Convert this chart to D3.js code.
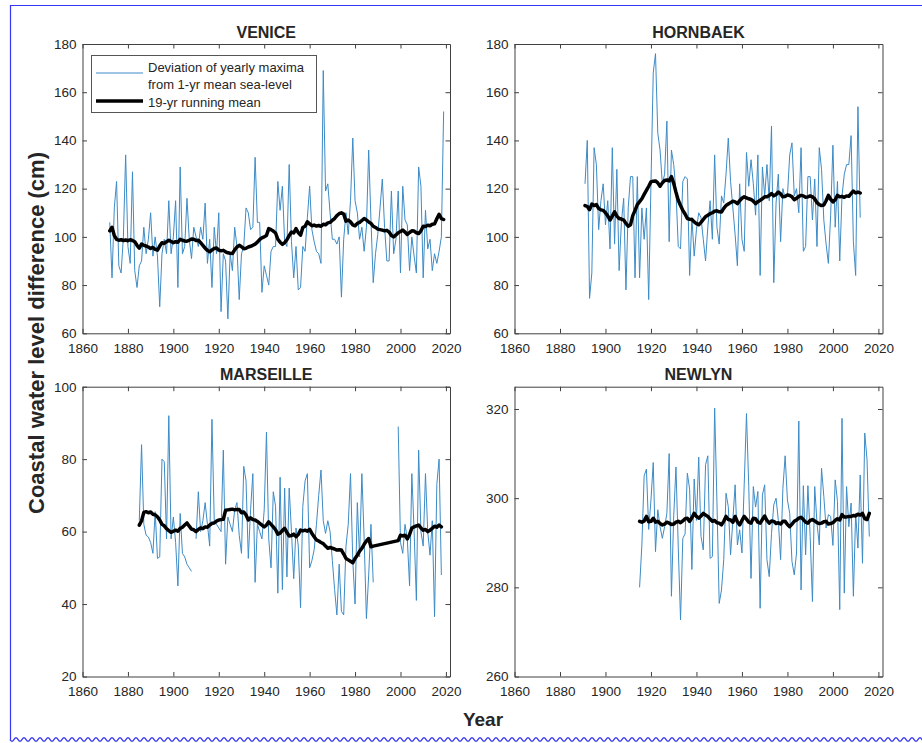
<!DOCTYPE html>
<html><head><meta charset="utf-8">
<script src="https://cdn.jsdelivr.net/npm/d3@7"></script>
<style>
body{margin:0;background:#fff}
svg{display:block}
text{font-family:"Liberation Sans",Arial,Helvetica,sans-serif;fill:#262626}
</style>
</head><body>
<svg id="c" width="922" height="743"></svg>
<script>
// ---------------- DATA ----------------
const xTicks = [1860,1880,1900,1920,1940,1960,1980,2000,2020];
const yTicksVenice = [60,80,100,120,140,160,180];
const yTicksHornbaek = [60,80,100,120,140,160,180];
const yTicksMarseille = [20,40,60,80,100];
const yTicksNewlyn = [260,280,300,320];

const veniceStart = 1872;
const veniceMaxima = [106,83,112,123,88,85,100,134,96,89,127,86,79,88,90,104,93,99,110,92,
100,92,71,93,99,93,115,93,100,115,79,129,93,96,116,99,91,104,100,96,
104,99,114,89,99,79,104,93,110,69,93,90,66,93,86,104,96,74,93,96,
112,110,103,104,133,106,106,77,88,84,80,94,96,96,123,111,121,98,96,130,
98,83,96,78,79,96,94,108,121,103,98,94,93,89,169,119,122,110,99,99,
97,100,75,99,110,101,115,141,115,110,99,104,94,104,136,107,81,93,101,112,
124,104,90,90,119,93,99,119,85,121,107,105,86,100,92,85,129,121,83,111,
95,99,86,93,89,94,100,152];
const veniceMean = [102.5,104,100.5,99,98.6,98.8,98.5,98.7,98.4,98.8,98.5,98,96.5,95.3,97,96.5,96.2,95.8,95.2,95.6,
94.8,94.5,96.2,97.6,97.3,98,98.6,98.1,97.6,98,97.8,99,98.6,98.3,98.2,98.6,99.1,99,98.5,98.6,
97.6,96.5,95.3,94.4,93.8,94.6,95.2,95.4,94.5,94.2,94.4,93.8,93.4,93.2,93.1,94.6,95.8,96.5,95.9,95.1,
95.3,95.8,96.1,96.5,97,97.8,98.9,99.6,100,100.6,103.4,103,102.4,101.6,99,97.8,96.9,97.6,98.8,100.5,
102,101.6,103.4,101.8,100.7,103.9,104.4,106.2,105.4,104.6,104.9,104.5,104.7,104.4,105.2,105,105.8,106,106.9,107.6,
108.8,109.6,110,109.5,106.5,107,106.2,105,104.6,105.6,106,106.8,107.6,107,106.2,105.6,104.4,103.9,103.2,103,
102.8,102.5,102.7,102,100.6,100,100.8,101.7,102.2,102.8,102,101,101.8,102.5,102.4,101.7,101.4,102.5,104.4,104.3,
104.8,104.6,105.2,105.4,107.5,109.4,107.6,107.2];

const hornbaekStart = 1891;
const hornbaekMaxima = [122,140,74.5,85,137,130,103,115,122,105,115,95,137,97,128,86,106,116,78,112,
125,125,83,125,83,112,99,112,74,122,168,176,143,136,122,126,148,98,136,130,
119,96,95,123,125,124,84,108,92,103,110,108,99,90,104,115,99,134,104,97,
117,114,126,141,123,112,101,88,122,99,94,135,121,132,122,109,134,84,129,117,
130,115,146,81,114,126,98,120,116,117,134,139,117,120,110,137,94,96,125,125,
107,124,96,137,128,107,97,89,109,138,104,123,90,117,126,130,130,142,98,84,
154,108];
const hornbaekMean = [113,112.6,111.3,113.6,113,113.4,111.8,111.2,111,110,108.7,107,108.6,110.4,108.6,107.6,107.4,107,105.6,104.4,
105,108.8,111,113.4,114.6,115.8,117.6,119.3,121,122.8,123.1,123.2,122.4,121,122.4,123.4,123.6,123.2,125,122.2,
118.5,115.2,113,111,109.5,107.6,107.3,107.2,106.2,105.5,105,106,107.2,108.4,109,109.6,110,110.6,110.8,110.4,
110.3,111.8,113,113.6,114.2,114.8,114.5,113.8,115,116,116.6,116.2,115.8,115.5,114.8,113.8,114.6,115.2,115.8,116.6,
116.6,117.2,118,117,117.6,118.6,117.8,116.6,116.8,117.4,117.2,116.6,115.4,116,116.8,117.2,117,116.4,116.6,117,
116.6,115.8,114.2,113.4,113,113.2,115,117.2,115.6,114.5,115.4,117.2,116.6,116.8,116.4,117,116.8,118,119,118.2,
118.6,118.2];

const marseilleStart = 1885;
const marseilleMaxima = [63,84,62,59,58.5,57,54,65.5,52.6,53,80,79.3,58,92,58,64,57,45,65,54,
53,51,50,49,null,58,71,60,63,68,62,56,91,63,62,61,60,82.5,51,64,
62,60,66,68,59,54,78,74,52.6,66,76,46,62,60,58,66,87.5,58,50,71,
67,43,75,44,72,47.5,72,60,47,61,56,39,67,74,76,50,52,55,62,70,
77,63,59.5,63,60,52,44,37,51,38,37,56,62,76,52,40,68,53,76,58,
36,48,62,46,null,null,null,null,null,null,null,null,null,null,89,57,54,62,58,45,
76,60,41,82.5,60,56,76,60,53.5,63,36.5,73,80,48];
const marseilleMean = [61.8,63,65.3,65.5,65.2,65.4,64.8,64.6,64.1,63.2,62,61.6,60.8,60.3,59.8,60.1,60.4,60.1,60.9,61.2,
61.8,62.4,61.5,60.7,60.5,60,60.6,61,60.8,61.3,61.2,61.8,62.3,62.4,62.9,63.2,63.3,63.4,65.9,66,
66.1,66.2,66,66.1,66.1,65.2,65.4,64.6,63.2,63.8,63.3,63.2,62.8,62.3,61.8,61.3,61.8,62.7,62,61.3,
60.5,59.3,59.6,60.3,60.9,59.8,58.8,58.9,59.3,58.6,59.2,60.4,60.2,60.4,60.1,60.6,59.5,58.6,57.7,57.4,
57,56.7,56,55.4,55.6,55.4,55.2,54.9,55,54.9,53.8,52.6,52.2,51.8,51.4,52.6,53.5,54.6,55.4,56.5,
57.4,58.1,55.8,56,null,null,null,null,null,null,null,null,null,null,57.5,59,58.8,59,58,59.2,
61,61.3,61.6,61.8,61,60.4,60.6,60,60.4,60.9,61.5,61.2,61.8,61.3];

const newlynStart = 1915;
const newlynMaxima = [280,289.5,305,306.5,293,299.6,308,288,297.4,293.6,291,293.6,296.6,310,278,296,307,289,272.7,291,
292,305.6,302,284,304.3,295,309.2,291.4,288.4,307.5,309.5,286.5,286.9,320.2,299.3,276.4,279.4,286.2,301.1,298.1,
287.3,295,303,289.5,292.9,287.7,303,319,302.6,282,302.6,298,301.5,275.3,300.7,303,286.2,282.4,292.1,298.5,
300,295,286.2,302.2,309.5,299.6,296.6,285.8,282.8,287.7,317.3,279.4,302.8,287.3,302.8,291.4,276.8,302.6,294.4,289.5,
306.7,300.4,293.3,296.3,295.9,289.4,304.1,299.3,275,317.9,278.7,302.6,293.6,298.9,278,296.6,288.8,305.2,285.4,314.6,
308.6,291.4];
const newlynMean = [294.8,294.6,294.9,295.9,294.7,294.8,295.5,294.6,294.8,294.3,294,294.2,294.6,294.4,294.1,294.2,294.6,294.8,294.5,294.9,
295.4,295.5,294.8,295.6,296.6,295.9,295.5,296,296.6,296.2,295.9,295.3,294.8,295,294.5,294.4,294,294.8,295.9,295.2,
295.1,294.6,295.9,294.7,294,295,295.9,295.3,294.6,294.4,295.5,295.4,294.6,294.4,295.2,296,295,294.4,294.9,294.8,
294.3,294.5,294.2,294.8,294.8,294.1,293.6,294.2,294.8,295.1,295.5,295.7,295.2,294.6,294.4,295,295.2,294.9,294.5,294.3,
294.4,294.7,294.8,294.2,294.3,294.5,295,295.4,295.1,296.3,295.8,295.8,295.9,295.9,296.1,296,296.4,296.2,296.6,295.4,
295.2,296.6];

const titles = ["VENICE","HORNBAEK","MARSEILLE","NEWLYN"];
const legendLabels = ["Deviation of yearly maxima","from 1-yr mean sea-level","19-yr running mean"];
const yLabel = "Coastal water level difference (cm)";
const xLabel = "Year";

// ---------------- LAYOUT ----------------
const svg = d3.select("#c");
const BLUE = "#3d8bc6", AXIS = "#404040", FRAME = "#3636f2";

// page frame
svg.append("rect").attr("width",922).attr("height",743).attr("fill","#fff");
svg.append("line").attr("x1",10).attr("x2",922).attr("y1",5.5).attr("y2",5.5).attr("stroke",FRAME).attr("stroke-width",1.2);
svg.append("line").attr("x1",10.5).attr("x2",10.5).attr("y1",5).attr("y2",740).attr("stroke",FRAME).attr("stroke-width",1.2);
const wave = d3.range(10, 923, 0.5).map(x => [x, 739.5 + 1.7*Math.sin((x-10)/8*2*Math.PI)]);
svg.append("path").attr("d", d3.line()(wave)).attr("fill","none").attr("stroke",FRAME).attr("stroke-width",1.3);

const cols = [[82.5,450],[514.5,882.5]];
const rows = [[44,333.3],[386.7,676.5]];

const panels = [
  {title:titles[0], c:0, r:0, dom:[60,180], ticks:yTicksVenice, start:veniceStart, vals:veniceMaxima, mean:veniceMean, legend:true},
  {title:titles[1], c:1, r:0, dom:[60,180], ticks:yTicksHornbaek, start:hornbaekStart, vals:hornbaekMaxima, mean:hornbaekMean},
  {title:titles[2], c:0, r:1, dom:[20,100], ticks:yTicksMarseille, start:marseilleStart, vals:marseilleMaxima, mean:marseilleMean},
  {title:titles[3], c:1, r:1, dom:[260,325], ticks:yTicksNewlyn, start:newlynStart, vals:newlynMaxima, mean:newlynMean}
];

panels.forEach(p => {
  const [xl, xr] = cols[p.c], [yt, yb] = rows[p.r];
  const x = d3.scaleLinear().domain([1860, 2021.8]).range([xl, xr]);
  const y = d3.scaleLinear().domain(p.dom).range([yb, yt]);
  const g = svg.append("g");

  const series = p.vals.map((v,i) => ({yr: p.start + i, v}));
  const meanSeries = p.mean.map((v,i) => ({yr: p.start + i, v})).filter(d => d.v !== null);

  const clipId = "clip" + p.c + p.r;
  svg.append("clipPath").attr("id", clipId).append("rect")
    .attr("x", xl).attr("y", yt).attr("width", xr - xl).attr("height", yb - yt);
  const plot = g.append("g").attr("clip-path", `url(#${clipId})`);

  plot.append("path").datum(series)
    .attr("d", d3.line().defined(d => d.v !== null).x(d => x(d.yr)).y(d => y(d.v)))
    .attr("fill","none").attr("stroke",BLUE).attr("stroke-width",1).attr("stroke-linejoin","round");
  plot.append("path").datum(meanSeries)
    .attr("d", d3.line().x(d => x(d.yr)).y(d => y(d.v)))
    .attr("fill","none").attr("stroke","#000").attr("stroke-width",3.5).attr("stroke-linejoin","round").attr("stroke-linecap","round");

  // axes (ticks inside, box on)
  const fs = "13.5px";
  const ax = [
    g.append("g").attr("transform",`translate(0,${yb})`).call(d3.axisBottom(x).tickValues(xTicks).tickFormat(d3.format("d")).tickSizeInner(-4.5).tickSizeOuter(0).tickPadding(10)),
    g.append("g").attr("transform",`translate(0,${yt})`).call(d3.axisTop(x).tickValues(xTicks).tickFormat("").tickSizeInner(-4.5).tickSizeOuter(0)),
    g.append("g").attr("transform",`translate(${xl},0)`).call(d3.axisLeft(y).tickValues(p.ticks).tickFormat(d3.format("d")).tickSizeInner(-4.5).tickSizeOuter(0).tickPadding(6)),
    g.append("g").attr("transform",`translate(${xr},0)`).call(d3.axisRight(y).tickValues(p.ticks).tickFormat("").tickSizeInner(-4.5).tickSizeOuter(0))
  ];
  ax.forEach(a => {
    a.select(".domain").attr("stroke",AXIS).attr("stroke-width",1);
    a.selectAll(".tick line").attr("stroke",AXIS).attr("stroke-width",1);
    a.selectAll("text").attr("fill","#262626").style("font-size",fs).style("font-family",'"Liberation Sans",Arial,sans-serif');
  });

  g.append("text").attr("x",(xl+xr)/2).attr("y",yt-6.5).attr("text-anchor","middle")
    .style("font-size","16px").style("font-weight","bold").attr("fill","#000").text(p.title);

  if (p.legend) {
    const lx = 91, ly = 55, lw = 225, lh = 57;
    const lg = g.append("g");
    lg.append("rect").attr("x",lx+0.5).attr("y",ly+0.5).attr("width",lw).attr("height",lh)
      .attr("fill","#fff").attr("stroke","#555").attr("stroke-width",1);
    lg.append("line").attr("x1",96).attr("x2",143).attr("y1",73).attr("y2",73).attr("stroke",BLUE).attr("stroke-width",1);
    lg.append("line").attr("x1",96).attr("x2",143).attr("y1",101).attr("y2",101).attr("stroke","#000").attr("stroke-width",3.5);
    [71.5, 89, 107].forEach((ty,i) => {
      lg.append("text").attr("x",148).attr("y",ty).style("font-size","13px").attr("fill","#000").text(legendLabels[i]);
    });
  }
});

svg.append("text").attr("transform","translate(44,333) rotate(-90)").attr("text-anchor","middle")
  .style("font-size","22px").style("font-weight","bold").attr("fill","#262626").text(yLabel);
svg.append("text").attr("x",483).attr("y",726).attr("text-anchor","middle")
  .style("font-size","19px").style("font-weight","bold").attr("fill","#262626").text(xLabel);
</script>
</body></html>
